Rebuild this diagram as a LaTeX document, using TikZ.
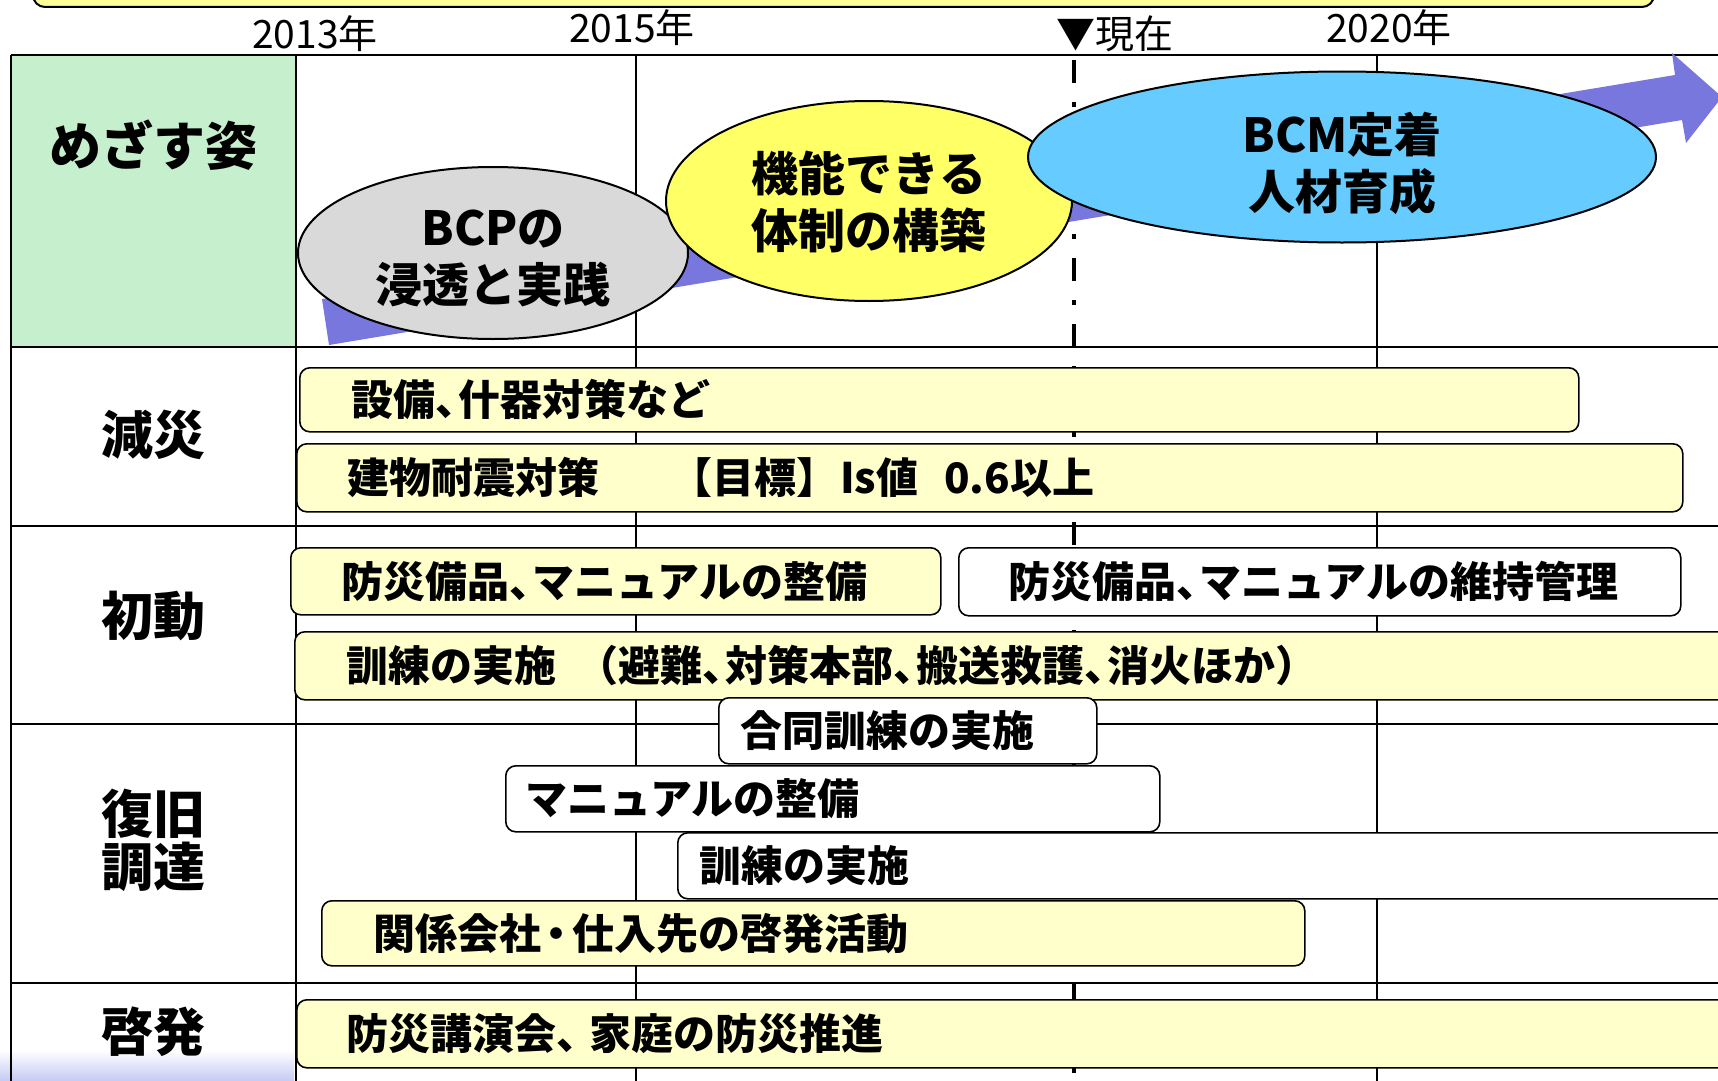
\documentclass[tikz,border=0pt]{standalone}
\usepackage{fontspec}
\setmainfont{Noto Sans CJK JP}
\usetikzlibrary{shapes.geometric}
\definecolor{cellgreen}{RGB}{198,239,206}
\definecolor{arrowblue}{RGB}{119,119,221}
\definecolor{ellgray}{RGB}{217,217,217}
\definecolor{ellyellow}{RGB}{255,255,102}
\definecolor{ellblue}{RGB}{102,204,255}
\definecolor{baryellow}{RGB}{255,255,204}
\definecolor{topyellow}{RGB}{255,255,153}
\definecolor{shadeblue}{RGB}{196,202,244}
\newcommand{\nten}{\makebox[0.55em][l]{、}}
\newcommand{\wten}{\makebox[0.8em][l]{、}}
\newcommand{\nmid}{\makebox[0.75em][c]{・}}
\begin{document}
\begin{tikzpicture}[x=1pt,y=-1pt,
  gridline/.style={draw=black,line width=2.3},
  yearline/.style={draw=black,line width=2},
  nowline/.style={draw=black,line width=4,dash pattern=on 23pt off 19pt on 5pt off 19pt},
  ell/.style={ellipse,draw=black,line width=2,inner sep=0pt},
  elltext/.style={inner sep=0pt,align=center,font=\fontsize{47}{57}\selectfont\bfseries},
  barbox/.style={draw=black,line width=1.6,rounded corners=10pt,inner sep=0pt,anchor=north west},
  ybar/.style={barbox,fill=baryellow},
  wbar/.style={barbox,fill=white},
  bartext/.style={anchor=west,inner sep=0pt,font=\fontsize{42}{48}\selectfont\bfseries},
  rowlabel/.style={inner sep=0pt,align=center,font=\fontsize{52}{53}\selectfont\bfseries},
  yearlabel/.style={inner sep=0pt,font=\fontsize{39}{42}\selectfont}]
\useasboundingbox (0,0) rectangle (1718,1081);
\clip (0,0) rectangle (1718,1081);
% top bar (cut off)
\path[draw=black,line width=2,fill=topyellow,rounded corners=12pt] (33,-40) rectangle (1654,7);
% backgrounds
\fill[cellgreen] (11,55) rectangle (296,347);
\shade[top color=white,bottom color=shadeblue] (0,1050) rectangle (294,1081);
% grid
\path[gridline] (11,55) -- (1718,55);
\foreach \yy in {347,526,724,983}{\path[gridline] (11,\yy) -- (1718,\yy);}
\path[gridline] (11,55) -- (11,1081);
\path[gridline] (296,55) -- (296,1081);
\path[yearline] (636,55) -- (636,1081);
\path[yearline] (1377,55) -- (1377,1081);
\path[nowline] (1074,60) -- (1074,1081);
% year labels
\node[yearlabel] (y13) at (315,34) {2013年};
\node[yearlabel] (y15) at (632,28) {2015年};
\node[yearlabel] (ynow) at (1115,34) {▼現在};
\node[yearlabel] (y20) at (1389,28) {2020年};
% arrow
\fill[arrowblue] (322,299) -- (1675,75) -- (1672,53) -- (1722,97) -- (1686,143) -- (1682,120) -- (329,345) -- cycle;
% ellipses
\node[ell,fill=ellgray,minimum width=390,minimum height=172] (e1) at (493,253) {};
\node[elltext] (e1t) at (493,258) {BCPの\\浸透と実践};
\node[ell,fill=ellyellow,minimum width=406,minimum height=200] (e2) at (869,201) {};
\node[elltext] (e2t) at (869,202) {機能できる\\体制の構築};
\node[ell,fill=ellblue,minimum width=628,minimum height=171] (e3) at (1342,157) {};
\node[elltext] (e3t) at (1342,163) {BCM定着\\人材育成};
% row labels
\node[rowlabel] (l0) at (153,145) {めざす姿};
\node[rowlabel] (l1) at (153,435) {減災};
\node[rowlabel] (l2) at (153,616) {初動};
\node[rowlabel] (l3) at (153,840) {復旧\\調達};
\node[rowlabel] (l4) at (153,1032) {啓発};
% bars
\node[ybar,minimum width=1279,minimum height=64] (b1) at (299,367) {};
\node[bartext] (t1) at ([xshift=52pt]b1.west) {設備\nten 什器対策など};
\node[ybar,minimum width=1386,minimum height=68] (b2) at (296,443) {};
\node[bartext] (t2) at ([xshift=51pt]b2.west) {建物耐震対策\hspace{71pt}【目標】\hspace{2pt}Is値\hspace{26pt}0.6以上};
\node[ybar,minimum width=650,minimum height=67] (b3) at (290,547) {};
\node[bartext] (t3) at ([xshift=51pt]b3.west) {防災備品\nten マニュアルの整備};
\node[wbar,minimum width=722,minimum height=68] (b4) at (958,547) {};
\node[bartext] (t4) at ([xshift=50pt]b4.west) {防災備品\nten マニュアルの維持管理};
\node[ybar,minimum width=1450,minimum height=68] (b5) at (294,631) {};
\node[bartext] (t5) at ([xshift=52pt]b5.west) {訓練の実施\hspace{20pt}（避難\nten 対策本部\nten 搬送救護\nten 消火ほか）};
\node[wbar,minimum width=378,minimum height=66] (b6) at (718,697) {};
\node[bartext] (t6) at ([xshift=22pt]b6.west) {合同訓練の実施};
\node[wbar,minimum width=654,minimum height=66] (b7) at (505,765) {};
\node[bartext] (t7) at ([xshift=20pt]b7.west) {マニュアルの整備};
\node[wbar,minimum width=1070,minimum height=66] (b8) at (677,832) {};
\node[bartext] (t8) at ([xshift=22pt]b8.west) {訓練の実施};
\node[ybar,minimum width=983,minimum height=65] (b9) at (321,900) {};
\node[bartext] (t9) at ([xshift=52pt]b9.west) {関係会社\nmid 仕入先の啓発活動};
\node[ybar,minimum width=1450,minimum height=68] (b10) at (296,999) {};
\node[bartext] (t10) at ([xshift=50pt]b10.west) {防災講演会\wten 家庭の防災推進};
\end{tikzpicture}
\end{document}
